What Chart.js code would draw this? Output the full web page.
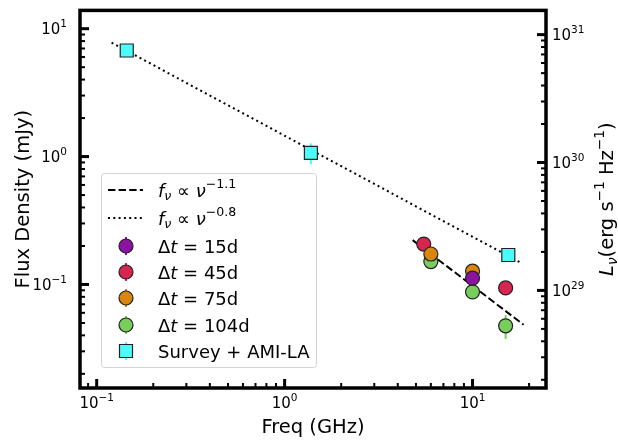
<!DOCTYPE html>
<html>
<head>
<meta charset="utf-8">
<script src="https://cdn.jsdelivr.net/npm/chart.js@4.4.1/dist/chart.umd.min.js"></script>
<style>
  html, body { margin: 0; padding: 0; background: #fff; }
</style>
</head>
<body>
<canvas id="sed" width="618" height="441"></canvas>
<script>
// data (GHz, mJy)
const freq15 = [10];
const flux15 = [0.112];
const err15 = [0.005];

const freq45 = [5.5, 15];
const flux45 = [0.207, 0.094];
const err45 = [0.007, 0.006];

const freq75 = [6.0, 10];
const flux75 = [0.173, 0.127];
const err75 = [0.006, 0.006];

const freq104 = [6.0, 10, 15];
const flux104 = [0.151, 0.0875, 0.0475];
const err104 = [0.006, 0.007, 0.010];

const freqSurvey = [0.1445, 1.38, 15.5];
const fluxSurvey = [6.75, 1.07, 0.170];
const errSurvey = [0.4, 0.2, 0.008];

// power law guide lines, end points only
const freqSteep = [4.8, 18.7];
const fluxSteep = [0.222, 0.0484];
const freqShallow = [0.12, 18.2];
const fluxShallow = [7.78, 0.147];

// axis ranges
const xRange = [0.0815, 24.6];
const yRange = [0.0155, 13.9];
const lumFactor = 1.113e30; // mJy -> erg/s/Hz

const legendLabels = [
  [['f', 'i'], ['ν', 'sub'], [' ∝ ', 'n'], ['ν', 'i'], ['−1.1', 'sup']],
  [['f', 'i'], ['ν', 'sub'], [' ∝ ', 'n'], ['ν', 'i'], ['−0.8', 'sup']],
  [['Δ', 'n'], ['t', 'i'], [' = 15d', 'n']],
  [['Δ', 'n'], ['t', 'i'], [' = 45d', 'n']],
  [['Δ', 'n'], ['t', 'i'], [' = 75d', 'n']],
  [['Δ', 'n'], ['t', 'i'], [' = 104d', 'n']],
  [['Survey + AMI-LA', 'n']]
];

const purple = '#8c12a3';
const crimson = '#d6264f';
const orange = '#d8860c';
const green = '#78cd5c';
const cyan = '#4cfcfc';

function pts(xs, ys) {
  return xs.map((x, i) => ({x: x, y: ys[i]}));
}

const FONT = '"DejaVu Sans", sans-serif';

function fontFor(kind, size) {
  if (kind == 'i') return 'italic ' + size + 'px ' + FONT;
  if (kind == 'sub') return 'italic ' + (size * 0.7) + 'px ' + FONT;
  if (kind == 'sup') return (size * 0.7) + 'px ' + FONT;
  return size + 'px ' + FONT;
}
function shiftFor(kind, size) {
  if (kind == 'sub') return size * 0.22;
  if (kind == 'sup') return -size * 0.45;
  return 0;
}
function partsWidth(ctx, parts, size) {
  let w = 0;
  parts.forEach(p => { ctx.font = fontFor(p[1], size); w += ctx.measureText(p[0]).width; });
  return w;
}
function drawParts(ctx, parts, x, y, size) {
  ctx.textAlign = 'left';
  ctx.textBaseline = 'alphabetic';
  parts.forEach(p => {
    ctx.font = fontFor(p[1], size);
    ctx.fillText(p[0], x, y + shiftFor(p[1], size));
    x += ctx.measureText(p[0]).width;
  });
}

function tickValues(min, max) {
  const out = [];
  for (let e = Math.floor(Math.log10(min)); e <= Math.ceil(Math.log10(max)); e++) {
    for (let d = 1; d < 10; d++) {
      const v = d * Math.pow(10, e);
      if (v >= min && v <= max) out.push({v: v, major: d == 1, e: e});
    }
  }
  return out;
}

// "10^n" tick label, align = 'left' | 'right' | 'center'
function drawPow(ctx, e, x, y, align) {
  const parts = [['10', 'n'], [String(e).replace('-', '−'), 'sup']];
  const w = partsWidth(ctx, parts, 15);
  let x0 = x;
  if (align == 'right') x0 = x - w;
  if (align == 'center') x0 = x - w / 2;
  drawParts(ctx, parts, x0, y, 15);
}

// vertical error bars, drawn under the markers
const errorBars = {
  id: 'errorBars',
  beforeDatasetsDraw(chart) {
    const ctx = chart.ctx;
    const xs = chart.scales.x, ys = chart.scales.y;
    chart.data.datasets.forEach(ds => {
      if (!ds.errors) return;
      ctx.save();
      ctx.strokeStyle = ds.backgroundColor;
      ctx.lineWidth = 2;
      ds.data.forEach((p, i) => {
        const px = xs.getPixelForValue(p.x);
        ctx.beginPath();
        ctx.moveTo(px, ys.getPixelForValue(p.y - ds.errors[i]));
        ctx.lineTo(px, ys.getPixelForValue(p.y + ds.errors[i]));
        ctx.stroke();
      });
      ctx.restore();
    });
  }
};

// frame, inward ticks, tick labels, titles and legend
const decor = {
  id: 'decor',
  afterDraw(chart) {
    const ctx = chart.ctx;
    const a = chart.chartArea;
    const sx = chart.scales.x, sy = chart.scales.y, sy2 = chart.scales.y2;
    ctx.save();
    ctx.strokeStyle = '#000';
    ctx.fillStyle = '#000';

    tickValues(sx.min, sx.max).forEach(t => {
      const p = sx.getPixelForValue(t.v);
      ctx.lineWidth = t.major ? 3 : 2;
      ctx.beginPath();
      ctx.moveTo(p, a.bottom);
      ctx.lineTo(p, a.bottom - (t.major ? 9 : 5));
      ctx.stroke();
      if (t.major) drawPow(ctx, t.e, p, a.bottom + 20, 'center');
    });
    tickValues(sy.min, sy.max).forEach(t => {
      const p = sy.getPixelForValue(t.v);
      ctx.lineWidth = t.major ? 3 : 2;
      ctx.beginPath();
      ctx.moveTo(a.left, p);
      ctx.lineTo(a.left + (t.major ? 9 : 5), p);
      ctx.stroke();
      if (t.major) drawPow(ctx, t.e, a.left - 13, p + 5.5, 'right');
    });
    tickValues(sy2.min, sy2.max).forEach(t => {
      const p = sy2.getPixelForValue(t.v);
      ctx.lineWidth = t.major ? 3 : 2;
      ctx.beginPath();
      ctx.moveTo(a.right, p);
      ctx.lineTo(a.right - (t.major ? 9 : 5), p);
      ctx.stroke();
      if (t.major) drawPow(ctx, t.e, a.right + 6, p + 5.5, 'left');
    });

    ctx.lineWidth = 3.5;
    ctx.strokeRect(a.left, a.top, a.right - a.left, a.bottom - a.top);

    // axis titles
    ctx.font = '19.5px ' + FONT;
    ctx.textAlign = 'center';
    ctx.textBaseline = 'alphabetic';
    ctx.fillText('Freq (GHz)', (a.left + a.right) / 2, 433);

    const midY = (a.top + a.bottom) / 2;
    ctx.save();
    ctx.translate(29, midY);
    ctx.rotate(-Math.PI / 2);
    ctx.fillText('Flux Density (mJy)', 0, 0);
    ctx.restore();

    const rTitle = [['L', 'i'], ['ν', 'sub'], ['(erg s', 'n'], ['−1', 'sup'], [' Hz', 'n'], ['−1', 'sup'], [')', 'n']];
    ctx.save();
    ctx.translate(613, midY);
    ctx.rotate(-Math.PI / 2);
    const rw = partsWidth(ctx, rTitle, 19.5);
    drawParts(ctx, rTitle, -rw / 2, 0, 19.5);
    ctx.restore();

    // legend
    const bx = 101.5, by = 173.5, bw = 215, bh = 194;
    ctx.fillStyle = 'rgba(255,255,255,0.8)';
    ctx.strokeStyle = '#d3d3d3';
    ctx.lineWidth = 1;
    ctx.beginPath();
    ctx.roundRect(bx, by, bw, bh, 3);
    ctx.fill();
    ctx.stroke();

    const rows = [190, 218, 246, 272, 298, 325, 351];
    const handles = chart.data.datasets.slice().sort((p, q) => p.legendRank - q.legendRank);
    handles.forEach((ds, i) => {
      const cy = rows[i];
      ctx.save();
      if (ds.showLine) {
        ctx.strokeStyle = '#000';
        ctx.lineWidth = 2;
        ctx.setLineDash(ds.borderDash);
        ctx.beginPath();
        ctx.moveTo(108, cy);
        ctx.lineTo(143, cy);
        ctx.stroke();
      } else {
        ctx.strokeStyle = ds.backgroundColor;
        ctx.lineWidth = 2;
        ctx.beginPath();
        ctx.moveTo(126, cy - 9);
        ctx.lineTo(126, cy + 9);
        ctx.stroke();
        ctx.fillStyle = ds.backgroundColor;
        ctx.strokeStyle = '#222';
        ctx.lineWidth = 1.2;
        ctx.beginPath();
        if (ds.pointStyle == 'rect') {
          ctx.rect(126 - 6.5, cy - 6.5, 13, 13);
        } else {
          ctx.arc(126, cy, 7, 0, Math.PI * 2);
        }
        ctx.fill();
        ctx.stroke();
      }
      ctx.restore();
      ctx.fillStyle = '#000';
      drawParts(ctx, legendLabels[i], 158, cy + 6.5, 18);
    });
    ctx.restore();
  }
};

const circle = (label, xs, ys, errs, color, rank) => ({
  label: label,
  data: pts(xs, ys),
  errors: errs,
  legendRank: rank,
  backgroundColor: color,
  borderColor: '#222',
  borderWidth: 1.2,
  pointRadius: 7,
  pointHoverRadius: 7,
  pointStyle: 'circle'
});

const datasets = [
  circle('15d', freq15, flux15, err15, purple, 2),
  circle('75d', freq75, flux75, err75, orange, 4),
  circle('45d', freq45, flux45, err45, crimson, 3),
  circle('104d', freq104, flux104, err104, green, 5),
  {
    label: 'Survey + AMI-LA',
    data: pts(freqSurvey, fluxSurvey),
    errors: errSurvey,
    legendRank: 6,
    backgroundColor: cyan,
    borderColor: '#222',
    borderWidth: 1.2,
    pointRadius: 9.2,
    pointHoverRadius: 9.2,
    pointStyle: 'rect'
  },
  {
    label: 'steep',
    data: pts(freqSteep, fluxSteep),
    legendRank: 0,
    showLine: true,
    borderColor: '#000',
    borderWidth: 2,
    borderDash: [7.4, 3.2],
    pointRadius: 0
  },
  {
    label: 'shallow',
    data: pts(freqShallow, fluxShallow),
    legendRank: 1,
    showLine: true,
    borderColor: '#000',
    borderWidth: 2,
    borderDash: [2, 3.3],
    pointRadius: 0
  }
];

const axisCommon = {
  type: 'logarithmic',
  grid: {display: false, drawTicks: false},
  border: {display: false},
  ticks: {display: false}
};

new Chart(document.getElementById('sed'), {
  type: 'scatter',
  data: {datasets: datasets},
  options: {
    responsive: false,
    animation: false,
    layout: {padding: {top: 8, left: 0, right: 0, bottom: 0}},
    plugins: {legend: {display: false}, tooltip: {enabled: false}},
    scales: {
      x: Object.assign({}, axisCommon, {
        position: 'bottom', min: xRange[0], max: xRange[1],
        afterFit: s => { s.height = 53; }
      }),
      y: Object.assign({}, axisCommon, {
        position: 'left', min: yRange[0], max: yRange[1],
        afterFit: s => { s.width = 80; }
      }),
      y2: Object.assign({}, axisCommon, {
        position: 'right', min: yRange[0] * lumFactor, max: yRange[1] * lumFactor,
        afterFit: s => { s.width = 72; }
      })
    }
  },
  plugins: [errorBars, decor]
});
</script>
</body>
</html>
